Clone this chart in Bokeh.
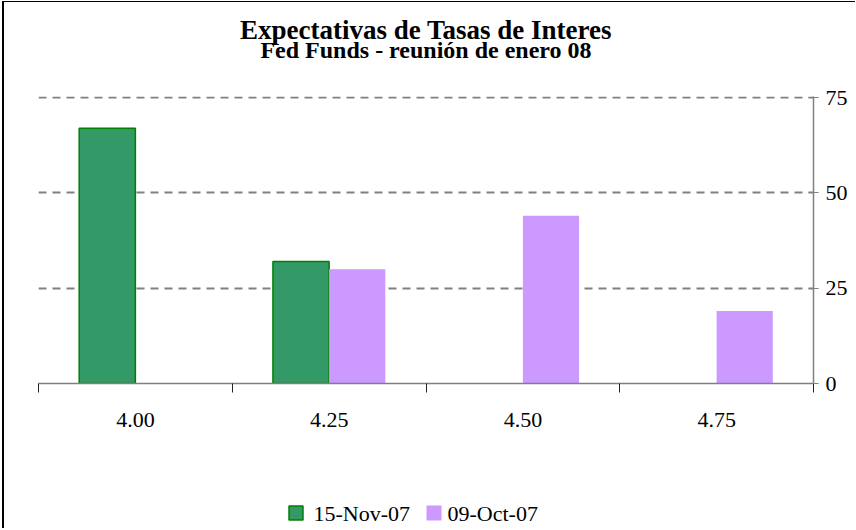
from bokeh.plotting import figure
from bokeh.layouts import column
from bokeh.models import (Range1d, FixedTicker, LinearAxis, Title, ColumnDataSource, Grid)
from bokeh.core.properties import value
from bokeh.embed import file_html
from bokeh.resources import INLINE

# ---- data ----
categories = ["4.00", "4.25", "4.50", "4.75"]
nov_values = [67, 32, 0, 0]      # 15-Nov-07
oct_values = [0, 30, 44, 19]     # 09-Oct-07
y_ticks = [0, 25, 50, 75]
series_names = ["15-Nov-07", "09-Oct-07"]

FONT = "Liberation Serif"
GREEN_FILL = "#339966"
GREEN_LINE = "#008000"
PURPLE = "#CC99FF"
BAR_W = 0.29
W = 851

p = figure(width=W, height=436, output_backend="svg", toolbar_location=None,
           x_range=Range1d(0, len(categories)), y_range=Range1d(0, 75.3),
           min_border_left=34, min_border_right=42, min_border_top=94,
           min_border_bottom=55, y_axis_location=None, x_axis_location=None)
p.outline_line_color = None
p.background_fill_color = "white"
p.border_fill_color = "white"

def build(vals, offset):
    xs, tops = [], []
    for i, v in enumerate(vals):
        if v > 0:
            xs.append(i + 0.5 + offset)
            tops.append(v)
    return ColumnDataSource(dict(x=xs, top=tops))

nov_style = dict(fill_color=GREEN_FILL, line_color=GREEN_LINE, line_width=1.5)
oct_style = dict(fill_color=PURPLE, line_color=None)

p.vbar(x="x", top="top", width=BAR_W, source=build(nov_values, -BAR_W / 2), **nov_style)
p.vbar(x="x", top="top", width=BAR_W, source=build(oct_values, BAR_W / 2), **oct_style)

# x axis: labels at centers, tick marks at category boundaries
centers = [i + 0.5 for i in range(len(categories))]
xaxis = LinearAxis(ticker=FixedTicker(ticks=centers,
                                      minor_ticks=list(range(len(categories) + 1))),
                   major_label_overrides={c: lab for c, lab in zip(centers, categories)})
xaxis.axis_line_color = "#808080"
xaxis.axis_line_width = 1.5
xaxis.major_tick_line_color = None
xaxis.major_tick_in = 0
xaxis.major_tick_out = 0
xaxis.minor_tick_line_color = "#222222"
xaxis.minor_tick_in = 0
xaxis.minor_tick_out = 9
xaxis.major_label_text_font = FONT
xaxis.major_label_text_font_size = "22px"
xaxis.major_label_text_color = "black"
xaxis.major_label_standoff = 20
p.add_layout(xaxis, "below")

yaxis = LinearAxis(ticker=FixedTicker(ticks=y_ticks))
yaxis.axis_line_color = "#808080"
yaxis.axis_line_width = 1.5
yaxis.major_tick_line_color = "#808080"
yaxis.major_tick_in = 5
yaxis.major_tick_out = 5
yaxis.minor_tick_line_color = None
yaxis.major_label_text_font = FONT
yaxis.major_label_text_font_size = "22px"
yaxis.major_label_text_color = "black"
yaxis.major_label_standoff = 7
p.add_layout(yaxis, "right")

p.xgrid.grid_line_color = None
p.ygrid.grid_line_color = None
g = Grid(dimension=1, ticker=FixedTicker(ticks=y_ticks[1:]), grid_line_color="#808080",
         grid_line_dash="8 6", grid_line_width=2)
p.add_layout(g)

# titles (first added is closest to the frame)
spacer_top = Title(text=" ", text_font_size="2px", standoff=30)
p.add_layout(spacer_top, "above")
sub = Title(text="Fed Funds - reunión de enero 08", align="center", text_font=FONT,
            text_font_size="24px", text_font_style="bold", text_color="black",
            standoff=0)
p.add_layout(sub, "above")
main = Title(text="Expectativas de Tasas de Interes", align="center", text_font=FONT,
             text_font_size="27px", text_font_style="bold", text_color="black",
             standoff=-20)
p.add_layout(main, "above")

# legend strip below the chart, drawn in pixel units of its own frame
p2 = figure(width=W, height=90, output_backend="svg", toolbar_location=None,
            x_range=Range1d(0, 775), y_range=Range1d(0, 90),
            min_border=0, min_border_left=34, min_border_right=42,
            min_border_top=0, min_border_bottom=0,
            x_axis_location=None, y_axis_location=None)
p2.outline_line_color = None
p2.xgrid.grid_line_color = None
p2.ygrid.grid_line_color = None

LEG_Y = 15.5          # legend row centre, px above the strip bottom
LEG_SWATCH_X = [257.5, 395.5]   # swatch centres, px from frame left
LEG_TEXT_X = [275, 409]
p2.rect(x=[LEG_SWATCH_X[0]], y=[LEG_Y], width=14, height=14, **nov_style)
p2.rect(x=[LEG_SWATCH_X[1]], y=[LEG_Y], width=15, height=15, **oct_style)
p2.text(x=LEG_TEXT_X, y=[LEG_Y, LEG_Y], text=series_names,
        text_font=value(FONT), text_font_size="22px", text_color="black",
        text_align="left", text_baseline="middle")

layout = column(p, p2, spacing=0, margin=(1, 0, 0, 2),
                styles={"border-left": "2px solid black", "border-top": "1px solid black"})

open("out.html", "w").write(file_html(layout, INLINE))
